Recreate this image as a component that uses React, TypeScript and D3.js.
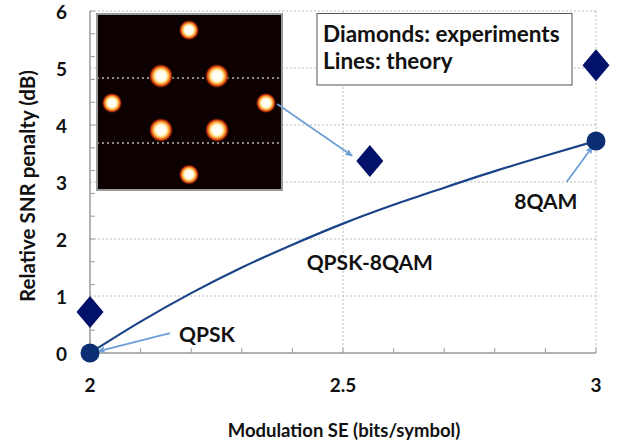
import React from "react";
import * as d3 from "d3";

// ---- data ----
const theoryX = [2.0, 2.1, 2.2, 2.3, 2.4, 2.5, 2.6, 2.7, 2.8, 2.9, 3.0];
const theoryY = [0, 0.55, 1.05, 1.5, 1.9, 2.27, 2.6, 2.9, 3.19, 3.46, 3.72];
const endpointX = [2, 3];
const endpointY = [0, 3.72];
const experimentX = [2, 2.553, 3];
const experimentY = [0.72, 3.37, 5.05];
const xTicks = [2, 2.5, 3];
const xTickLabels = ["2", "2.5", "3"];
const yTicks = [0, 1, 2, 3, 4, 5, 6];
const yTickLabels = ["0", "1", "2", "3", "4", "5", "6"];
const labelTexts = ["QPSK", "8QAM", "QPSK-8QAM"];
const labelX = [2.231, 2.901, 2.553];
const labelY = [0.35, 2.68, 1.6];
const arrowFromX = [2.158, 2.942, 2.37];
const arrowFromY = [0.35, 3.0, 4.37];
const arrowToX = [2.016, 2.993, 2.518];
const arrowToY = [0.03, 3.62, 3.46];
const legendLines = ["Diamonds: experiments", "Lines: theory"];
const xTitle = "Modulation SE (bits/symbol)";
const yTitle = "Relative SNR penalty (dB)";
// inset constellation (8QAM) in I/Q units
const constI = [0, -1, 1, -2.75, 2.75, -1, 1, 0];
const constQ = [2.7, 1, 1, 0, 0, -1, -1, -2.65];

const W = 618;
const H = 443;
const FONT = "Lato, 'Open Sans', sans-serif";

export default function App() {
  const x = d3.scaleLinear().domain([2, 3]).range([90, 596]);
  const y = d3.scaleLinear().domain([0, 6]).range([353, 11]);

  const theory = theoryX.map((v, i) => [v, theoryY[i]] as [number, number]);
  const line = d3
    .line<[number, number]>()
    .x((d) => x(d[0]))
    .y((d) => y(d[1]))
    .curve(d3.curveMonotoneX);

  const xMinor = d3.range(0, 11).map((i) => 2 + i * 0.1);
  const yMinor = d3.range(0, 16).map((i) => i * 0.4);

  // inset image geometry
  const inset = { x0: 97, y0: 14, x1: 282, y1: 190 };
  const ci = d3.scaleLinear().domain([-1, 1]).range([161, 217]);
  const cq = d3.scaleLinear().domain([-1, 1]).range([130, 76]);

  const grid = "#bdbdbd";
  const axis = "#9a9a9a";
  const arrowColor = "#6e9fd6";

  const diamond = (cx: number, cy: number) =>
    `M${cx},${cy - 16}L${cx + 13.5},${cy}L${cx},${cy + 16}L${cx - 13.5},${cy}Z`;

  return (
    <svg
      width={W}
      height={H}
      style={{ position: "absolute", left: 0, top: 0, background: "#fff" }}
      fontFamily={FONT}
    >
      <defs>
        <radialGradient id="glow">
          <stop offset="0%" stopColor="#ffffff" />
          <stop offset="42%" stopColor="#fffbe6" />
          <stop offset="60%" stopColor="#ffc04a" />
          <stop offset="80%" stopColor="#d0360c" />
          <stop offset="100%" stopColor="#0c0000" stopOpacity="0" />
        </radialGradient>
        <marker
          id="arr"
          viewBox="0 0 10 10"
          refX="9"
          refY="5"
          markerWidth="8"
          markerHeight="8"
          orient="auto"
          markerUnits="userSpaceOnUse"
        >
          <path d="M1,1.5L9,5L1,8.5L3,5Z" fill={arrowColor} stroke={arrowColor} strokeWidth="1" />
        </marker>
      </defs>

      {/* gridlines */}
      {yTicks.slice(1).map((t) => (
        <line
          key={"gy" + t}
          x1={x(2)}
          x2={x(3)}
          y1={y(t)}
          y2={y(t)}
          stroke={grid}
          strokeDasharray="2,2"
        />
      ))}
      {xTicks.slice(1).map((t) => (
        <line
          key={"gx" + t}
          x1={x(t)}
          x2={x(t)}
          y1={y(0)}
          y2={y(6)}
          stroke={grid}
          strokeDasharray="2,2"
        />
      ))}

      {/* axes */}
      <line x1={x(2)} x2={x(3)} y1={y(0)} y2={y(0)} stroke={axis} strokeWidth={1.5} />
      <line x1={x(2)} x2={x(2)} y1={y(0)} y2={y(6)} stroke={axis} strokeWidth={1.5} />
      {xMinor.map((t) => (
        <line key={"xm" + t} x1={x(t)} x2={x(t)} y1={y(0)} y2={y(0) - 5} stroke={axis} />
      ))}
      {yMinor.map((t) => (
        <line key={"ym" + t} x1={x(2)} x2={x(2) + 5} y1={y(t)} y2={y(t)} stroke={axis} />
      ))}

      {/* tick labels */}
      {yTicks.map((t, i) => (
        <text
          key={"yl" + t}
          x={67}
          y={y(t)}
          textAnchor="end"
          dominantBaseline="central"
          fontSize={19}
          fontWeight={700}
          fill="#111"
        >
          {yTickLabels[i]}
        </text>
      ))}
      {xTicks.map((t, i) => (
        <text
          key={"xl" + t}
          x={x(t)}
          y={384}
          textAnchor="middle"
          dominantBaseline="central"
          fontSize={19}
          fontWeight={700}
          fill="#111"
        >
          {xTickLabels[i]}
        </text>
      ))}

      {/* axis titles */}
      <text
        x={344}
        y={430}
        textAnchor="middle"
        dominantBaseline="central"
        fontSize={18.5}
        fontWeight={700}
        fill="#111"
      >
        {xTitle}
      </text>
      <text
        transform={`translate(27,186) rotate(-90)`}
        textAnchor="middle"
        dominantBaseline="central"
        fontSize={20.5}
        fontWeight={700}
        fill="#111"
      >
        {yTitle}
      </text>

      {/* inset constellation image */}
      <rect
        x={inset.x0}
        y={inset.y0}
        width={inset.x1 - inset.x0}
        height={inset.y1 - inset.y0}
        fill="#0c0000"
        stroke="#9a9a9a"
        strokeWidth={2}
      />
      {[78, 143].map((yy) => (
        <line
          key={"il" + yy}
          x1={inset.x0}
          x2={inset.x1}
          y1={yy}
          y2={yy}
          stroke="#8a8a8a"
          strokeWidth={2}
          strokeDasharray="2,3"
        />
      ))}
      {constI.map((v, i) => {
        const inner = Math.abs(v) === 1;
        return (
          <circle
            key={"c" + i}
            cx={ci(v)}
            cy={cq(constQ[i])}
            r={inner ? 12.5 : 10.5}
            fill="url(#glow)"
          />
        );
      })}

      {/* theory line */}
      <path d={line(theory) || ""} fill="none" stroke="#1a4488" strokeWidth={2.2} />

      {/* arrows */}
      {arrowFromX.map((v, i) => (
        <line
          key={"a" + i}
          x1={x(v)}
          y1={y(arrowFromY[i])}
          x2={x(arrowToX[i])}
          y2={y(arrowToY[i])}
          stroke={arrowColor}
          strokeWidth={1.8}
          markerEnd="url(#arr)"
        />
      ))}

      {/* experiments: diamonds */}
      {experimentX.map((v, i) => (
        <path key={"d" + i} d={diamond(x(v), y(experimentY[i]))} fill="#02126a" />
      ))}
      {/* theory endpoints */}
      {endpointX.map((v, i) => (
        <circle key={"e" + i} cx={x(v)} cy={y(endpointY[i])} r={9.5} fill="#0b2f72" />
      ))}

      {/* annotation labels */}
      {labelTexts.map((t, i) => (
        <text
          key={"lt" + i}
          x={x(labelX[i])}
          y={y(labelY[i])}
          textAnchor="middle"
          dominantBaseline="central"
          fontSize={21}
          fontWeight={700}
          fill="#111"
        >
          {t}
        </text>
      ))}

      {/* legend box */}
      <rect x={317} y={13.5} width={255} height={71.5} fill="#fff" stroke="#555" strokeWidth={1} />
      {legendLines.map((t, i) => (
        <text
          key={"lg" + i}
          x={323}
          y={42 + i * 27}
          fontSize={22.5}
          fontWeight={700}
          fill="#111"
        >
          {t}
        </text>
      ))}
    </svg>
  );
}
